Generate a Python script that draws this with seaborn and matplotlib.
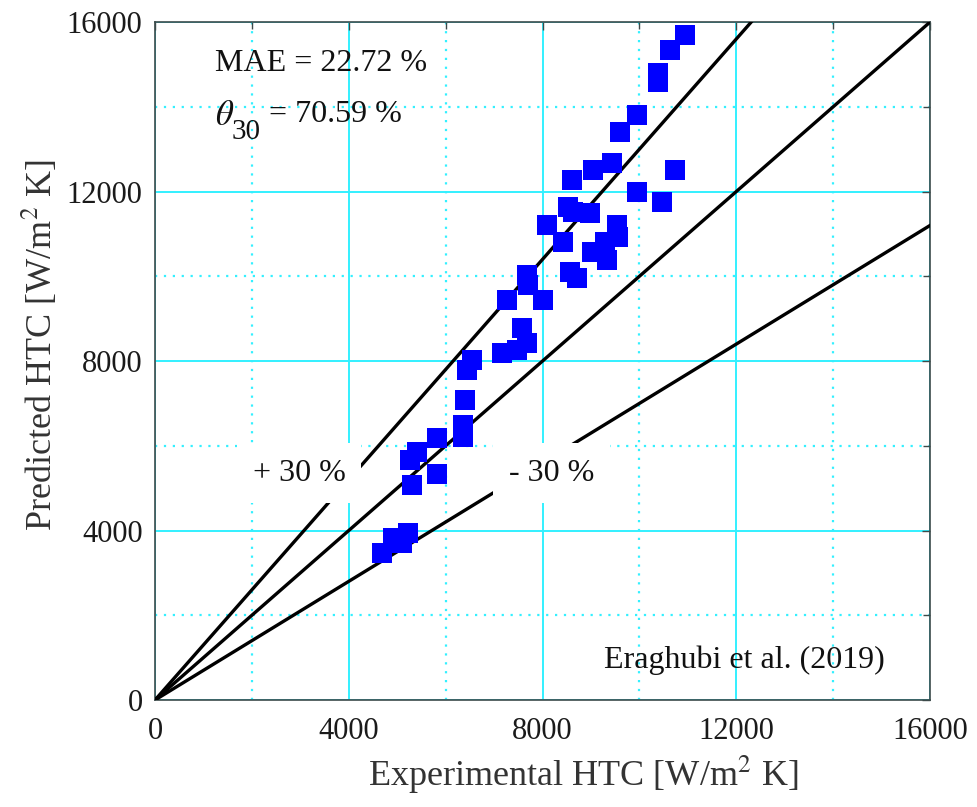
import numpy as np
import pandas as pd
import matplotlib
matplotlib.use("Agg")
import matplotlib.pyplot as plt
from matplotlib.ticker import MultipleLocator
import seaborn as sns

# Experimental vs predicted heat transfer coefficient [W/m^2 K]
htc_experimental = [
    10942, 10632, 10384, 10384, 9951, 9600, 9435, 9043, 8609, 10735,
    9951, 10467, 8526, 8630, 8981, 8093, 9538, 9559, 8423, 9290,
    9022, 9332, 8568, 8712, 7680, 7701, 7267, 8010, 7577, 7680,
    7164, 7473, 6545, 6441, 6400, 6359, 6359, 5822, 5409, 5264,
    5306, 5822, 5223, 4914, 5099, 4686,
]
htc_predicted = [
    15694, 15340, 14797, 14585, 13806, 13405, 12673, 12508, 12272, 12508,
    11989, 11753, 11635, 11517, 11493, 11210, 11210, 10927, 10809, 10809,
    10573, 10384, 10101, 9959, 10030, 9794, 9440, 9440, 8779, 8425,
    8189, 8260, 8024, 7788, 7080, 6490, 6207, 6183, 5853, 5664,
    5074, 5334, 3941, 3823, 3705, 3469,
]

# Reference lines: +30 %, perfect agreement, -30 %
band_slopes = [1.3, 1.0, 0.7]
axis_limit = 16000
mae_text = "MAE = 22.72 %"
theta_value_text = "= 70.59 %"
source_text = "Eraghubi et al. (2019)"

df = pd.DataFrame({"exp": htc_experimental, "pred": htc_predicted})

sns.set_style("white")
plt.rcParams["font.family"] = ["Liberation Serif", "DejaVu Serif"]
plt.rcParams["mathtext.fontset"] = "stix"

fig = plt.figure(figsize=(9.78, 8.07), dpi=100)
ax = fig.add_axes([0.1585, 0.1326, 0.7925, 0.8401])

ax.set_xlim(0, axis_limit)
ax.set_ylim(0, axis_limit)
ax.xaxis.set_major_locator(MultipleLocator(4000))
ax.yaxis.set_major_locator(MultipleLocator(4000))
ax.xaxis.set_minor_locator(MultipleLocator(2000))
ax.yaxis.set_minor_locator(MultipleLocator(2000))

grid_color = "#33f0ff"
ax.grid(True, which="major", color=grid_color, linewidth=1.4, linestyle="-", zorder=0)
ax.grid(True, which="minor", color=grid_color, linewidth=1.6, linestyle=(0, (1, 3)), zorder=0)
ax.set_axisbelow(True)

xs = np.array([0, axis_limit * 1.2])
for k in band_slopes:
    sns.lineplot(x=xs, y=k * xs, ax=ax, color="black", linewidth=2.4, zorder=3)

sns.scatterplot(data=df, x="exp", y="pred", ax=ax, marker="s", s=220,
                color="#0000ff", edgecolor="#0000ff", linewidth=0, zorder=4)

for side in ["left", "right", "top", "bottom"]:
    ax.spines[side].set_visible(True)
    ax.spines[side].set_color("#3c4a4a")
    ax.spines[side].set_linewidth(1.2)

ax.tick_params(axis="both", which="both", direction="in", top=True, right=True,
               colors="#3c4a4a", labelcolor="#1a1a1a")
ax.tick_params(axis="both", which="major", length=6, width=1.0, labelsize=22)
ax.tick_params(axis="x", which="major", pad=12)
ax.tick_params(axis="y", which="major", pad=9)
ax.tick_params(axis="both", which="minor", length=5, width=1.0)

ax.set_xlabel(r"Experimental HTC [W/m$^2$ K]", fontsize=26, color="#333333")
ax.set_ylabel(r"Predicted HTC [W/m$^2$ K]", fontsize=26, color="#333333")
ax.xaxis.set_label_coords(0.553, -0.111)
ax.xaxis.label.set_va("center")
ax.yaxis.set_label_coords(-0.148, 0.524)
ax.yaxis.label.set_va("center")

text_kw = dict(transform=ax.transAxes, color="#111111", va="center", ha="left")
ax.text(0.077, 0.9395, mae_text, fontsize=23, **text_kw)
ax.text(0.077, 0.861, r"$\theta$", fontsize=25, **text_kw)
ax.text(0.099, 0.838, "30", fontsize=21, **text_kw)
ax.text(0.147, 0.863, theta_value_text, fontsize=23, **text_kw)

box = dict(boxstyle="square,pad=0.5", facecolor="white", edgecolor="none")
ax.text(2973, 5357, "+ 30 %", fontsize=23, color="#111111", ha="center", va="center",
        bbox=box, zorder=6)
ax.text(8186, 5357, "- 30 %", fontsize=23, color="#111111", ha="center", va="center",
        bbox=box, zorder=6)
ax.text(0.942, 0.059, source_text, transform=ax.transAxes, fontsize=23,
        color="#111111", ha="right", va="center")

fig.savefig("out.png", dpi=100)
